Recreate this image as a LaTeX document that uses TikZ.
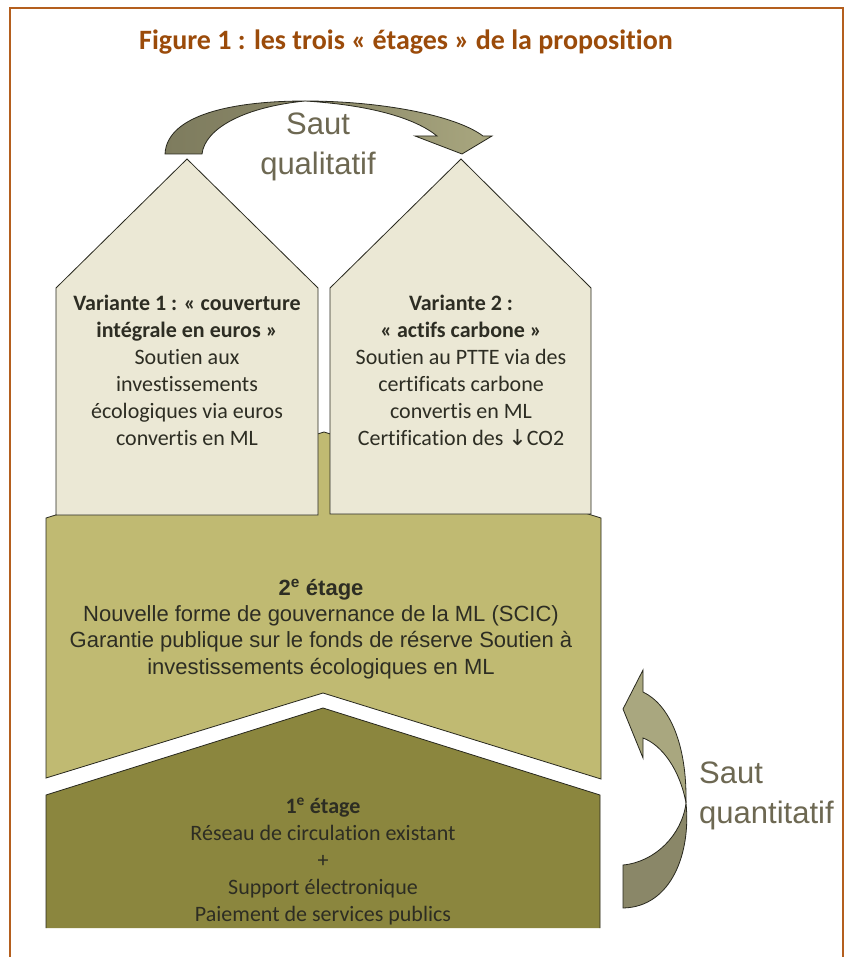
\documentclass[tikz,border=0pt]{standalone}
\usepackage{fontspec}
\setmainfont{Carlito}[Ligatures=NoCommon]
\newfontfamily\arialf{Liberation Sans}
\newfontfamily\dejavuf{DejaVu Sans}
\definecolor{framec}{RGB}{180,95,30}
\definecolor{titlec}{RGB}{155,75,10}
\definecolor{housec}{RGB}{235,232,213}
\definecolor{bandc}{RGB}{192,186,114}
\definecolor{basec}{RGB}{139,134,62}
\definecolor{linec}{RGB}{40,40,30}
\definecolor{textc}{RGB}{45,45,35}
\definecolor{sautc}{RGB}{109,104,82}
\definecolor{arrlight}{RGB}{169,167,127}
\definecolor{arrdark}{RGB}{138,135,104}
\definecolor{arrdarker}{RGB}{126,124,94}
\begin{document}
\begin{tikzpicture}[x=1pt,y=-1pt,
  outl/.style={draw=linec, line width=0.8pt, line join=miter},
  bodytxt/.style={inner sep=0pt, align=center, anchor=north, text=textc,
    font=\fontsize{22}{27}\selectfont},
  bandtxt/.style={inner sep=0pt, align=center, anchor=north, text=textc,
    font=\arialf\fontsize{22}{26.3}\selectfont},
  sauttxt/.style={inner sep=0pt, text=sautc, font=\arialf\fontsize{31}{40}\selectfont},
  titletxt/.style={inner sep=0pt, text=titlec, font=\bfseries\fontsize{28}{34}\selectfont}]
\useasboundingbox (0,0) rectangle (847,957);
\fill[white] (0,0) rectangle (847,957);
% frame
\draw[framec, line width=2pt] (10,8) rectangle (843,990);
% title
\node[titletxt, anchor=base] (title) at (406,50) {Figure 1 : les trois « étages » de la proposition};
% second floor band
\path[fill=bandc, outl] (46,518) -- (324,432) -- (601,518) -- (601,779) -- (323,693) -- (46,778) -- cycle;
% houses
\path[fill=housec, outl] (56,515) -- (56,288) -- (187,159) -- (318,288) -- (318,515) -- cycle;
\path[fill=housec, outl] (330,514) -- (330,288) -- (461,159) -- (591,288) -- (591,514) -- cycle;
% first floor
\fill[basec] (46,928) -- (46,795) -- (323,708) -- (600,795) -- (600,928) -- cycle;
\draw[outl] (46,928) -- (46,795) -- (323,708) -- (600,795) -- (600,928);
% top arrow (saut qualitatif)
\path[outl, left color=arrdarker, right color=arrdark]
  (165,154) .. controls (167,114) and (235,101) .. (305,101)
  .. controls (245,107) and (205,128) .. (202,154) -- cycle;
\path[outl, left color=arrdark, right color=arrlight]
  (305,101) .. controls (380,101) and (455,115) .. (483,136)
  -- (492,136) -- (462,154) -- (415,136) -- (437,136)
  .. controls (415,118) and (370,105) .. (305,101) -- cycle;
% right arrow (saut quantitatif)
\path[outl, fill=arrlight]
  (643,670) -- (643,692) .. controls (670,705) and (687,745) .. (686,803)
  .. controls (680,770) and (662,745) .. (643,738)
  -- (643,758) -- (623,709) -- cycle;
\path[outl, fill=arrdark]
  (623,865) .. controls (655,862) and (682,835) .. (686,803)
  .. controls (691,852) and (672,907) .. (623,908) -- cycle;
% texts
\node[sauttxt, align=center, anchor=north] (sautqual) at (318,109) {\rule{0pt}{25pt}Saut\\qualitatif};
\node[sauttxt, align=left, anchor=north west] (sautquant) at (699,758) {\rule{0pt}{25pt}Saut\\quantitatif};
\node[bodytxt] (var1) at (187,293) {\rule{0pt}{17pt}\textbf{Variante 1 : « couverture}\\\textbf{intégrale en euros »}\\Soutien aux\\investissements\\écologiques via euros\\convertis en ML};
\node[bodytxt] (var2) at (461,293) {\rule{0pt}{17pt}\textbf{Variante 2 :}\\\textbf{« actifs carbone »}\\Soutien au PTTE via des\\certificats carbone\\convertis en ML\\Certification des {\dejavuf\fontsize{22}{27}\selectfont ↓}CO2};
\node[bandtxt] (etage2) at (321,577) {\rule{0pt}{18pt}\textbf{2\textsuperscript{e} étage}\\Nouvelle forme de gouvernance de la ML (SCIC)\\Garantie publique sur le fonds de réserve Soutien à\\investissements écologiques en ML};
\node[bodytxt] (etage1) at (323,796) {\rule{0pt}{17pt}\textbf{1\textsuperscript{e} étage}\\Réseau de circulation existant\\+\\Support électronique\\Paiement de services publics};
\end{tikzpicture}
\end{document}
